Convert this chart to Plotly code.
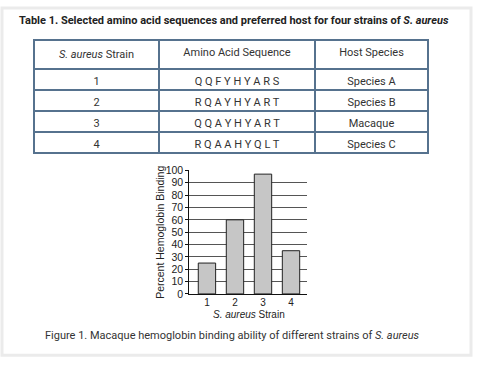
import plotly.graph_objects as go

W, H = 478, 366

# ---- data ----
strains = ["1", "2", "3", "4"]
sequences = ["QQFYHYARS", "RQAYHYART", "QQAYHYART", "RQAAHYQLT"]
hosts = ["Species A", "Species B", "Macaque", "Species C"]
binding = [25, 60, 97, 35]
table_headers = ["<i>S. aureus</i> Strain", "Amino Acid Sequence", "Host Species"]
y_ticks = [0, 10, 20, 30, 40, 50, 60, 70, 80, 90, 100]

def px(x):
    return x / W

def py(y):
    return 1 - y / H

line_col = "#56728e"
fig = go.Figure()

fig.add_trace(go.Table(
    domain=dict(x=[px(34), px(428)], y=[py(160), py(35)]),
    columnwidth=[125, 156, 113],
    header=dict(values=table_headers, fill_color="white",
                line=dict(color=line_col, width=1.3),
                font=dict(family="Roboto", size=11, color="#333"),
                align="center", height=21),
    cells=dict(values=[strains, [" ".join(s) for s in sequences], hosts],
               fill_color="white",
               line=dict(color=line_col, width=1.3),
               font=dict(family="Roboto", size=11, color="#333"),
               align="center", height=21),
))

fig.add_trace(go.Bar(
    x=[int(s) for s in strains], y=binding, width=0.62,
    marker=dict(color="#c6c6c6", line=dict(color="#222", width=1)),
    showlegend=False, hoverinfo="skip",
))

fig.update_layout(
    width=W, height=H, margin=dict(l=0, r=0, t=0, b=0),
    paper_bgcolor="white", plot_bgcolor="white",
    showlegend=False,
    xaxis=dict(domain=[px(189.3), px(306.7)], range=[0.37, 4.56],
               tickmode="array", tickvals=[1, 2, 3, 4], ticktext=strains,
               showgrid=False, zeroline=False, showline=True, linecolor="#111",
               linewidth=1, ticks="", ticklabelstandoff=-1,
               tickfont=dict(family="Liberation Sans", size=10, color="#222")),
    yaxis=dict(domain=[py(297.7), py(170)], range=[0, 100],
               tickmode="array", tickvals=y_ticks,
               showgrid=True, gridcolor="#555", gridwidth=1, zeroline=False,
               showline=True, linecolor="#111", linewidth=1,
               ticks="outside", ticklen=3, tickcolor="#111",
               tickfont=dict(family="Liberation Sans", size=10.5, color="#222")),
    shapes=[dict(type="rect", xref="paper", yref="paper",
                 x0=px(2), x1=px(471), y0=py(361), y1=py(2),
                 line=dict(color="#ebebeb", width=3), fillcolor="rgba(0,0,0,0)",
                 layer="below")],
    annotations=[
        dict(text="<b>Table 1. Selected amino acid sequences and preferred host for four strains of <i>S. aureus</i></b>",
             xref="paper", yref="paper", x=px(17), y=py(15), xanchor="left", yanchor="middle",
             showarrow=False, font=dict(family="Roboto", size=11, color="#222")),
        dict(text="Percent Hemoglobin Binding", textangle=-90,
             xref="paper", yref="paper", x=px(160.5), y=py(234), xanchor="center", yanchor="middle",
             showarrow=False, font=dict(family="Liberation Sans", size=10.5, color="#222")),
        dict(text="<i>S. aureus</i> Strain",
             xref="paper", yref="paper", x=px(249), y=py(318.5), xanchor="center", yanchor="middle",
             showarrow=False, font=dict(family="Liberation Sans", size=10, color="#222")),
        dict(text="Figure 1. Macaque hemoglobin binding ability of different strains of <i>S. aureus</i>",
             xref="paper", yref="paper", x=px(43), y=py(341), xanchor="left", yanchor="middle",
             showarrow=False, font=dict(family="Roboto", size=11, color="#333")),
    ],
)

fig.write_html("out.html")
